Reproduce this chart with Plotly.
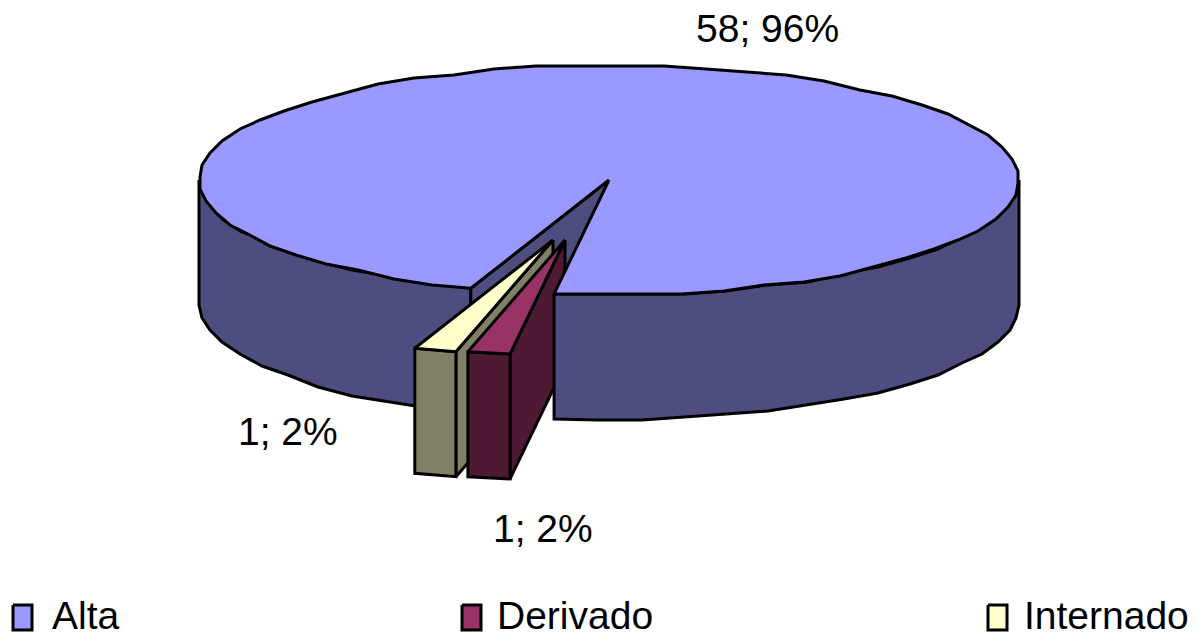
import math
import plotly.graph_objects as go

# Data
categories = ["Alta", "Derivado", "Internado"]
values = [58, 1, 1]
point_labels = ["58; 96%", "1; 2%", "1; 2%"]
top_colors = ["#9999FF", "#993366", "#FFFFCC"]
wall_colors = ["#4D4D80", "#4D1933", "#808066"]

# Projection style (pixels)
CX, CY, RX, RY, DEPTH = 609, 180, 410, 115, 125
START = 199.7
OFFSETS = [(0, 0), (-44, 60), (-56, 60)]
LABEL_POS = [(767, 28), (543, 528), (288, 431)]
SWATCH_X = [13, 462, 988]
TEXT_X = [52, 497, 1024]
FONT = "Liberation Sans, Arial, sans-serif"
LW = 3
PAGE_MARGIN = 8

total = sum(values)
spans = []
a = START
for v in values:
    b = a + 360 * v / total
    spans.append((a, b))
    a = b


def pt(angle, off=(0, 0), drop=0):
    r = math.radians(angle)
    return (CX + off[0] + RX * math.sin(r), CY + off[1] - RY * math.cos(r) + drop)


def arc(a0, a1, off=(0, 0), drop=0, step=6.0):
    n = max(1, int(abs(a1 - a0) / step))
    out = []
    for i in range(n + 1):
        x, y = pt(a0 + (a1 - a0) * i / n, off, drop)
        if 0 < i < n:
            x, y = round(x / 2) * 2, round(y / 3) * 3
        out.append((x, y))
    return out


fig = go.Figure()


def poly(points, fill, name):
    xs = [p[0] for p in points] + [points[0][0]]
    ys = [p[1] for p in points] + [points[0][1]]
    fig.add_trace(go.Scatter(
        x=xs, y=ys, mode="lines", fill="toself", fillcolor=fill, name=name,
        line=dict(color="black", width=LW), hoverinfo="name", showlegend=False))


a0, a1 = spans[0]            # a0 = start, a1 = start + sweep
a1n = a1 - 360               # same direction, expressed below the south point
tip = (CX, CY)

# main pie: left outer wall and the visible cut wall
poly(arc(270, a0) + arc(a0, 270, drop=DEPTH), wall_colors[0], categories[0])
poly([tip, pt(a0), pt(a0, drop=DEPTH), (CX, CY + DEPTH)], wall_colors[0], categories[0])

# exploded slices, back to front
for i in (2, 1):
    s0, s1 = spans[i]
    off = OFFSETS[i]
    t = (CX + off[0], CY + off[1])
    # cut wall on the east side of the slice
    poly([t, pt(s0, off), pt(s0, off, DEPTH), (t[0], t[1] + DEPTH)], wall_colors[i], categories[i])
    # outer front wall
    poly(arc(s0, s1, off) + arc(s1, s0, off, DEPTH), wall_colors[i], categories[i])
    # top
    poly([t] + arc(s0, s1, off), top_colors[i], categories[i])

# main pie: right outer wall and top face
poly(arc(a1n, 90) + arc(90, a1n, drop=DEPTH), wall_colors[0], categories[0])
poly([tip] + arc(a0, a1), top_colors[0], categories[0])

# legend swatches
for i, c in enumerate(categories):
    x = SWATCH_X[i]
    poly([(x, 605), (x + 19, 605), (x + 19, 630), (x, 630)], top_colors[i], c)

annotations = []
for (x, y), t in zip(LABEL_POS, point_labels):
    annotations.append(dict(x=x, y=y, text=t, showarrow=False, xanchor="center", yanchor="middle",
                            font=dict(family=FONT, size=39, color="black")))
for x, t in zip(TEXT_X, categories):
    annotations.append(dict(x=x, y=615, text=t, showarrow=False, xanchor="left", yanchor="middle",
                            xshift=-2, font=dict(family=FONT, size=39, color="black")))

fig.update_layout(
    width=1204 - PAGE_MARGIN, height=641 - PAGE_MARGIN, autosize=False,
    margin=dict(l=0, r=0, t=0, b=0),
    paper_bgcolor="white", plot_bgcolor="white", showlegend=False,
    xaxis=dict(range=[PAGE_MARGIN, 1204], visible=False, fixedrange=True),
    yaxis=dict(range=[641, PAGE_MARGIN], visible=False, fixedrange=True),
    annotations=annotations,
)
fig.write_html("out.html", config={"displayModeBar": False})
